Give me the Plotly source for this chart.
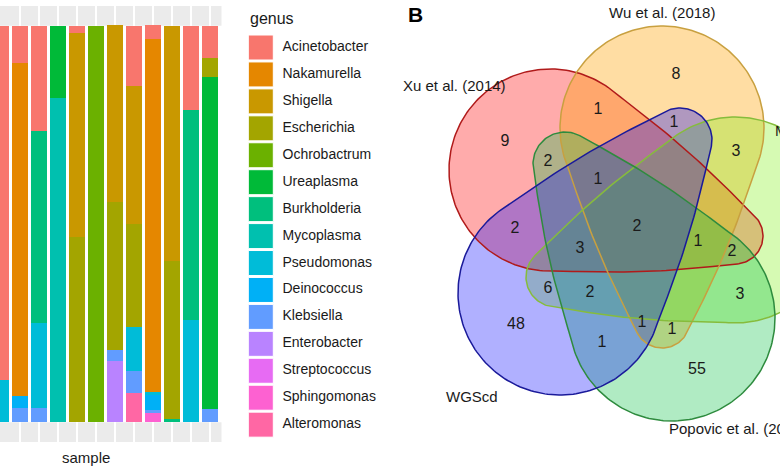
import math
import numpy as np
import plotly.graph_objects as go

# ---------------- data: stacked bars ----------------
samples = ["S01", "S02", "S03", "S04", "S05", "S06", "S07", "S08", "S09", "S10", "S11", "S12"]
genera = ["Acinetobacter", "Nakamurella", "Shigella", "Escherichia", "Ochrobactrum",
          "Ureaplasma", "Burkholderia", "Mycoplasma", "Pseudomonas", "Deinococcus",
          "Klebsiella", "Enterobacter", "Streptococcus", "Sphingomonas", "Alteromonas"]
genus_colors = ["#F8766D", "#E58700", "#C99800", "#A3A500", "#6BB100",
                "#00BA38", "#00BF7D", "#00C0AF", "#00BCD8", "#00B0F6",
                "#619CFF", "#B983FF", "#E76BF3", "#FD61D1", "#FF67A4"]

Acinetobacter = [0.894, 0.093, 0.264, 0.0, 0.018, 0.0, 0.0, 0.151, 0.033, 0.0, 0.212, 0.080]
Nakamurella   = [0.0, 0.841, 0.0, 0.0, 0.0, 0.0, 0.0, 0.0, 0.892, 0.0, 0.0, 0.0]
Shigella      = [0.0, 0.0, 0.0, 0.0, 0.516, 0.0, 0.446, 0.347, 0.0, 0.594, 0.0, 0.0]
Escherichia   = [0.0, 0.0, 0.0, 0.0, 0.466, 0.0, 0.373, 0.262, 0.0, 0.398, 0.0, 0.048]
Ochrobactrum  = [0.0, 0.0, 0.0, 0.0, 0.0, 1.0, 0.0, 0.0, 0.0, 0.0, 0.0, 0.0]
Ureaplasma    = [0.0, 0.0, 0.0, 0.181, 0.0, 0.0, 0.0, 0.0, 0.0, 0.0, 0.0, 0.839]
Burkholderia  = [0.0, 0.0, 0.486, 0.0, 0.0, 0.0, 0.0, 0.0, 0.0, 0.008, 0.529, 0.0]
Mycoplasma    = [0.0, 0.0, 0.0, 0.819, 0.0, 0.0, 0.0, 0.0, 0.0, 0.0, 0.0, 0.0]
Pseudomonas   = [0.106, 0.0, 0.214, 0.0, 0.0, 0.0, 0.0, 0.111, 0.005, 0.0, 0.259, 0.0]
Deinococcus   = [0.0, 0.030, 0.0, 0.0, 0.0, 0.0, 0.0, 0.0, 0.040, 0.0, 0.0, 0.0]
Klebsiella    = [0.0, 0.035, 0.035, 0.0, 0.0, 0.0, 0.028, 0.055, 0.008, 0.0, 0.0, 0.033]
Enterobacter  = [0.0, 0.0, 0.0, 0.0, 0.0, 0.0, 0.154, 0.0, 0.0, 0.0, 0.0, 0.0]
Streptococcus = [0.0] * 12
Sphingomonas  = [0.0, 0.0, 0.0, 0.0, 0.0, 0.0, 0.0, 0.0, 0.023, 0.0, 0.0, 0.0]
Alteromonas   = [0.0, 0.0, 0.0, 0.0, 0.0, 0.0, 0.0, 0.073, 0.0, 0.0, 0.0, 0.0]

abundance = [Acinetobacter, Nakamurella, Shigella, Escherichia, Ochrobactrum, Ureaplasma,
             Burkholderia, Mycoplasma, Pseudomonas, Deinococcus, Klebsiella, Enterobacter,
             Streptococcus, Sphingomonas, Alteromonas]

# ---------------- data: Venn ----------------
set_names = ["Xu et al. (2014)", "Wu et al. (2018)", "Minard et al. (2013)",
             "Popovic et al. (2018)", "WGScd"]
region_counts = [8, 9, 1, 1, 3, 2, 1, 2, 2, 3, 1, 2, 6, 2, 3, 48, 1, 1, 1, 55]

# ---------------- layout helpers (pixel geometry) ----------------
W, H = 780, 470
FONT = "Arial, Liberation Sans, sans-serif"

fig = go.Figure()

# stacked bars (ggplot stacks first level on top -> add in reverse)
for name, col, vals in reversed(list(zip(genera, genus_colors, abundance))):
    fig.add_trace(go.Bar(x=list(range(len(samples))), y=vals, name=name,
                         marker=dict(color=col, line=dict(width=0)),
                         width=0.874, showlegend=False, xaxis="x", yaxis="y",
                         hoverinfo="skip"))

# panel geometry
px_unit = 19.0
panel_right = 221.5
x_lo = -1.0 / px_unit
x_hi = x_lo + panel_right / px_unit
ytop_px, ybot_px = 6, 442

# custom ggplot-style legend on pixel axes x2/y2
key_x, key_y0, key_step = 260.8, 47.5, 26.94
key_ys = [key_y0 + i * key_step for i in range(len(genera))]
fig.add_trace(go.Scatter(x=[key_x] * len(genera), y=key_ys, mode="markers",
                         marker=dict(symbol="square", size=25, color=genus_colors,
                                     line=dict(color="white", width=1)),
                         showlegend=False, xaxis="x2", yaxis="y2", hoverinfo="skip"))
fig.add_trace(go.Scatter(x=[282.5] * len(genera), y=key_ys, mode="text", text=genera,
                         textposition="middle right",
                         textfont=dict(family=FONT, size=14, color="#1a1a1a"),
                         showlegend=False, xaxis="x2", yaxis="y2", hoverinfo="skip"))


# Venn shapes: tapered capsules (big round end + small round tip), sides slightly bulged
def capsule(C, R, T, r, bulge=4.0, n=140, m=50, k=40):
    cx, cy = C
    tx, ty = T
    dx, dy = tx - cx, ty - cy
    d = math.hypot(dx, dy)
    th = math.atan2(dy, dx)
    beta = math.acos((R - r) / d)
    a1 = np.linspace(th + beta, th + 2 * math.pi - beta, n)
    a2 = np.linspace(th - beta, th + beta, m)
    bx, by = cx + R * np.cos(a1), cy + R * np.sin(a1)
    sx, sy = tx + r * np.cos(a2), ty + r * np.sin(a2)
    s = np.linspace(0, 1, k)[1:-1]
    n1 = (math.cos(th - beta), math.sin(th - beta))
    l1x = bx[-1] + (sx[0] - bx[-1]) * s + bulge * np.sin(np.pi * s) * n1[0]
    l1y = by[-1] + (sy[0] - by[-1]) * s + bulge * np.sin(np.pi * s) * n1[1]
    n2 = (math.cos(th + beta), math.sin(th + beta))
    l2x = sx[-1] + (bx[0] - sx[-1]) * s + bulge * np.sin(np.pi * s) * n2[0]
    l2y = sy[-1] + (by[0] - sy[-1]) * s + bulge * np.sin(np.pi * s) * n2[1]
    xs = np.concatenate([bx, l1x, sx, l2x, [bx[0]]])
    ys = np.concatenate([by, l1y, sy, l2y, [by[0]]])
    return xs, ys


venn_geom = [
    ((550, 170), 101, (735, 236), 28),
    ((662, 128), 102, (662, 320), 28),
    ((735, 220), 103, (556, 277), 30),
    ((672, 318), 103, (565, 164), 32),
    ((560, 293), 102, (680, 140), 32),
]
venn_fill = ["rgba(255,0,0,0.33)", "rgba(255,160,0,0.36)", "rgba(124,240,10,0.31)",
             "rgba(0,190,60,0.31)", "rgba(0,0,255,0.31)"]
venn_line = ["#B01A1A", "#C8A040", "#86BC3C", "#2E8B3E", "#1A1A9A"]

outlines = [capsule(*g) for g in venn_geom]
for (xs, ys), fc in zip(outlines, venn_fill):
    fig.add_trace(go.Scatter(x=xs, y=ys, mode="lines", fill="toself", fillcolor=fc,
                             line=dict(width=0), showlegend=False,
                             xaxis="x2", yaxis="y2", hoverinfo="skip"))
for (xs, ys), lc in zip(outlines, venn_line):
    fig.add_trace(go.Scatter(x=xs, y=ys, mode="lines", line=dict(color=lc, width=1.5),
                             showlegend=False, xaxis="x2", yaxis="y2", hoverinfo="skip"))

count_pos = [(676, 75), (505, 142), (598, 110), (674, 123), (736, 152), (548, 162),
             (598, 180), (637, 227), (515, 229), (580, 249), (698, 242), (732, 252),
             (548, 289), (590, 293), (740, 295), (516, 325), (642, 323), (672, 330),
             (602, 343), (697, 370)]
fig.add_trace(go.Scatter(x=[p[0] for p in count_pos], y=[p[1] for p in count_pos],
                         mode="text", text=[str(c) for c in region_counts],
                         textposition="middle center",
                         textfont=dict(family=FONT, size=16, color="#1a1a1a"),
                         showlegend=False, xaxis="x2", yaxis="y2", hoverinfo="skip"))

set_label_pos = [(454, 85, "center"), (662, 12, "center"), (773, 130, "left"),
                 (667, 428, "left"), (472, 396, "center")]
annotations = []
for name, (lx, ly, anc) in zip(set_names, set_label_pos):
    annotations.append(dict(x=lx, y=ly, xref="x2", yref="y2", text=name, showarrow=False,
                            xanchor=anc, yanchor="middle",
                            font=dict(family=FONT, size=15, color="#1a1a1a")))
annotations.append(dict(x=415, y=14, xref="x2", yref="y2", text="<b>B</b>", showarrow=False,
                        xanchor="center", yanchor="middle",
                        font=dict(family=FONT, size=21, color="#000")))
annotations.append(dict(x=248, y=18, xref="x2", yref="y2", text="genus", showarrow=False,
                        xanchor="left", yanchor="middle",
                        font=dict(family=FONT, size=16, color="#1a1a1a")))
annotations.append(dict(x=86, y=457, xref="x2", yref="y2", text="sample", showarrow=False,
                        xanchor="center", yanchor="middle",
                        font=dict(family=FONT, size=15, color="#1a1a1a")))

shapes = [
    dict(type="rect", xref="x domain", yref="y", x0=0, x1=1, y0=1.0, y1=1.05,
         fillcolor="#EBEBEB", line=dict(width=0), layer="below"),
    dict(type="rect", xref="x domain", yref="y", x0=0, x1=1, y0=-0.05, y1=0.0,
         fillcolor="#EBEBEB", line=dict(width=0), layer="below"),
]

fig.update_layout(
    width=W, height=H, margin=dict(l=0, r=0, t=0, b=0),
    paper_bgcolor="white", plot_bgcolor="rgba(0,0,0,0)",
    barmode="stack", bargap=0,
    font=dict(family=FONT),
    xaxis=dict(domain=[0, panel_right / W], range=[x_lo, x_hi], showticklabels=False,
               ticks="", showgrid=True, gridcolor="white", gridwidth=2,
               zeroline=False, showline=False, tickmode="linear", tick0=0, dtick=1),
    yaxis=dict(domain=[(H - ybot_px) / H, (H - ytop_px) / H], range=[-0.05, 1.05],
               showticklabels=False, ticks="", showgrid=False, zeroline=False, showline=False),
    xaxis2=dict(domain=[0, 1], range=[0, W], visible=False, anchor="y2"),
    yaxis2=dict(domain=[0, 1], range=[H, 0], visible=False, anchor="x2"),
    shapes=shapes, annotations=annotations,
)

fig.write_html("out.html", config={"displayModeBar": False},
               post_script="document.body.style.margin='0';")
